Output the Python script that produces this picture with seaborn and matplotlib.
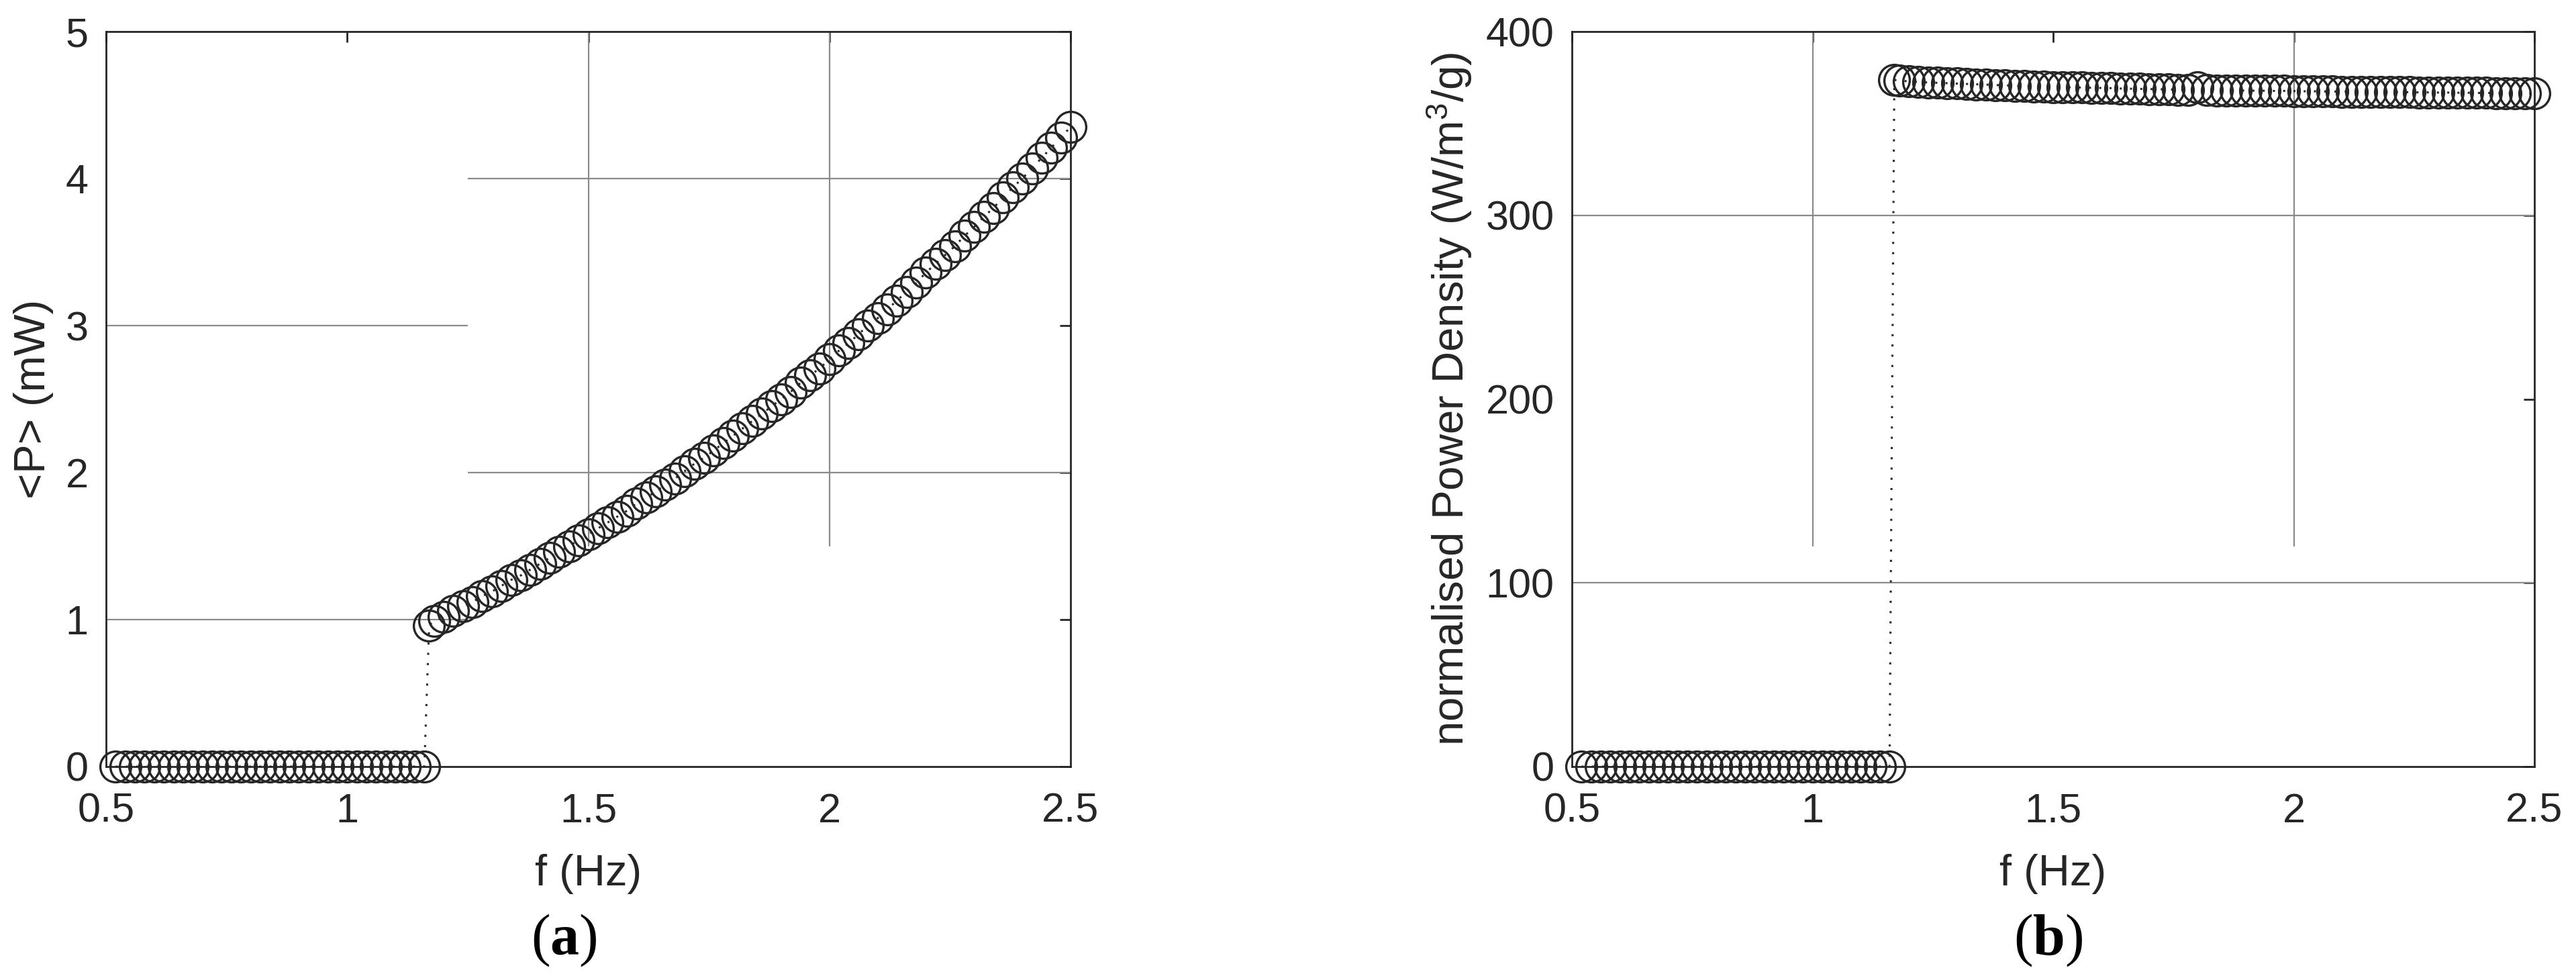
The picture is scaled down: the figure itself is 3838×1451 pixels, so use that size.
import matplotlib
matplotlib.use("Agg")
import matplotlib.pyplot as plt
import seaborn as sb
import pandas as pd

# frequency sweep (Hz), same for both panels
f_hz = [0.52, 0.54, 0.56, 0.58, 0.60, 0.62, 0.64, 0.66, 0.68, 0.70,
        0.72, 0.74, 0.76, 0.78, 0.80, 0.82, 0.84, 0.86, 0.88, 0.90,
        0.92, 0.94, 0.96, 0.98, 1.00, 1.02, 1.04, 1.06, 1.08, 1.10,
        1.12, 1.14, 1.16, 1.17,
        1.18, 1.20, 1.22, 1.24, 1.26, 1.28, 1.30, 1.32, 1.34, 1.36,
        1.38, 1.40, 1.42, 1.44, 1.46, 1.48, 1.50, 1.52, 1.54, 1.56,
        1.58, 1.60, 1.62, 1.64, 1.66, 1.68, 1.70, 1.72, 1.74, 1.76,
        1.78, 1.80, 1.82, 1.84, 1.86, 1.88, 1.90, 1.92, 1.94, 1.96,
        1.98, 2.00, 2.02, 2.04, 2.06, 2.08, 2.10, 2.12, 2.14, 2.16,
        2.18, 2.20, 2.22, 2.24, 2.26, 2.28, 2.30, 2.32, 2.34, 2.36,
        2.38, 2.40, 2.42, 2.44, 2.46, 2.48, 2.50]

# (a) mean power <P> in mW
power_mw = [0, 0, 0, 0, 0, 0, 0, 0, 0, 0,
            0, 0, 0, 0, 0, 0, 0, 0, 0, 0,
            0, 0, 0, 0, 0, 0, 0, 0, 0, 0,
            0, 0, 0, 0.96,
            0.99, 1.02, 1.06, 1.09, 1.12, 1.16, 1.19, 1.23, 1.27, 1.30,
            1.34, 1.38, 1.42, 1.46, 1.50, 1.54, 1.58, 1.62, 1.66, 1.70,
            1.74, 1.79, 1.83, 1.87, 1.92, 1.96, 2.01, 2.06, 2.10, 2.15,
            2.20, 2.25, 2.30, 2.35, 2.40, 2.45, 2.50, 2.55, 2.61, 2.66,
            2.71, 2.77, 2.83, 2.88, 2.94, 3.00, 3.05, 3.11, 3.17, 3.23,
            3.29, 3.36, 3.42, 3.48, 3.54, 3.61, 3.67, 3.74, 3.80, 3.87,
            3.94, 4.00, 4.07, 4.14, 4.21, 4.28, 4.35]

# (b) normalised power density in W/m^3/g
density = [0, 0, 0, 0, 0, 0, 0, 0, 0, 0,
           0, 0, 0, 0, 0, 0, 0, 0, 0, 0,
           0, 0, 0, 0, 0, 0, 0, 0, 0, 0,
           0, 0, 0, 373.7,
           373.3, 372.9, 372.6, 372.3, 372.1, 371.9, 371.7, 371.5, 371.3, 371.1,
           370.9, 370.7, 370.5, 370.3, 370.1, 370.0, 369.8, 369.7, 369.6, 369.5,
           369.4, 369.3, 369.2, 369.0, 368.9, 368.8, 368.7, 368.6, 368.5, 368.4,
           368.2, 369.5, 368.1, 368.0, 368.0, 367.9, 367.9, 367.8, 367.8, 367.7,
           367.7, 367.6, 367.5, 367.5, 367.4, 367.4, 367.3, 367.3, 367.2, 367.2,
           367.1, 367.1, 367.0, 367.0, 366.9, 366.9, 366.8, 366.8, 366.7, 366.7,
           366.6, 366.6, 366.5, 366.5, 366.4, 366.4, 366.3]

x_ticks = [0.5, 1, 1.5, 2, 2.5]
x_tick_labels = ["0.5", "1", "1.5", "2", "2.5"]
ya_ticks = [0, 1, 2, 3, 4, 5]
yb_ticks = [0, 100, 200, 300, 400]

INK = "#262626"
GRID = "#8a8a8a"
TICK_FS = 44
LABEL_FS = 47

sb.set_theme(style="white")
plt.rcParams["font.family"] = ["Liberation Sans", "DejaVu Sans"]
plt.rcParams["mathtext.fontset"] = "custom"
plt.rcParams["mathtext.rm"] = "Liberation Sans"
plt.rcParams["mathtext.it"] = "Liberation Sans"
plt.rcParams["mathtext.bf"] = "Liberation Serif:bold"

df = pd.DataFrame({"f": f_hz, "P": power_mw, "PD": density})

fig = plt.figure(figsize=(38.38, 14.51), dpi=100)
ax_a = fig.add_axes([158 / 3838, 309 / 1451, 1437 / 3838, 1095 / 1451])
ax_b = fig.add_axes([2342 / 3838, 309 / 1451, 1434 / 3838, 1095 / 1451])

#grid only shows in pieces in the original, redraw those pieces
grid_a_h = [(1, 0.5, 1.25), (3, 0.5, 1.25), (2, 1.25, 2.5), (4, 1.25, 2.5)]
grid_a_v = [(1.5, 1.5, 5), (2, 1.5, 5)]
grid_b_h = [(100, 0.5, 2.5), (300, 0.5, 2.5)]
grid_b_v = [(1, 120, 400), (2, 120, 400)]

for ax, col, yt, ylim, gh, gv in [(ax_a, "P", ya_ticks, (0, 5), grid_a_h, grid_a_v),
                                  (ax_b, "PD", yb_ticks, (0, 400), grid_b_h, grid_b_v)]:
    for y, x0, x1 in gh:
        ax.hlines(y, x0, x1, color=GRID, lw=1.6, zorder=1)
    for x, y0, y1 in gv:
        ax.vlines(x, y0, y1, color=GRID, lw=1.6, zorder=1)
    sb.lineplot(data=df, x="f", y=col, ax=ax, color=INK, linestyle=(0, (1, 4)),
                linewidth=2.2, marker="o", markersize=33, markerfacecolor="none",
                markeredgecolor=INK, markeredgewidth=2.4, sort=False,
                estimator=None, clip_on=False, zorder=3)
    ax.set_xlim(0.5, 2.5)
    ax.set_ylim(*ylim)
    ax.set_xticks(x_ticks)
    ax.set_xticklabels(x_tick_labels)
    ax.set_yticks(yt)
    ax.set_yticklabels([str(v) for v in yt])
    ax.tick_params(direction="in", length=11.5, width=2.0, top=True, right=True,
                   labelsize=TICK_FS, colors=INK)
    ax.tick_params(axis="x", pad=28)
    ax.tick_params(axis="y", pad=19)
    for s in ax.spines.values():
        s.set_color(INK)
        s.set_linewidth(2.0)
        s.set_zorder(4)
    ax.set_xlabel("f (Hz)", fontsize=LABEL_FS, color=INK)
    ax.xaxis.set_label_coords(0.5, -0.119)

ax_a.set_ylabel("<P> (mW)", fontsize=LABEL_FS, color=INK)
ax_a.yaxis.set_label_coords(-0.054, 0.5)
ax_b.set_ylabel("normalised Power Density (W/m$^3$/g)", fontsize=LABEL_FS, color=INK)
ax_b.yaxis.set_label_coords(-0.102, 0.5)

fig.text(840 / 3838, 50 / 1451, r"($\mathbf{a}$)", family="Liberation Serif",
         size=62, ha="center", va="center", color="black")
fig.text(3052 / 3838, 50 / 1451, r"($\mathbf{b}$)", family="Liberation Serif",
         size=62, ha="center", va="center", color="black")

fig.savefig("out.png", dpi=100)
